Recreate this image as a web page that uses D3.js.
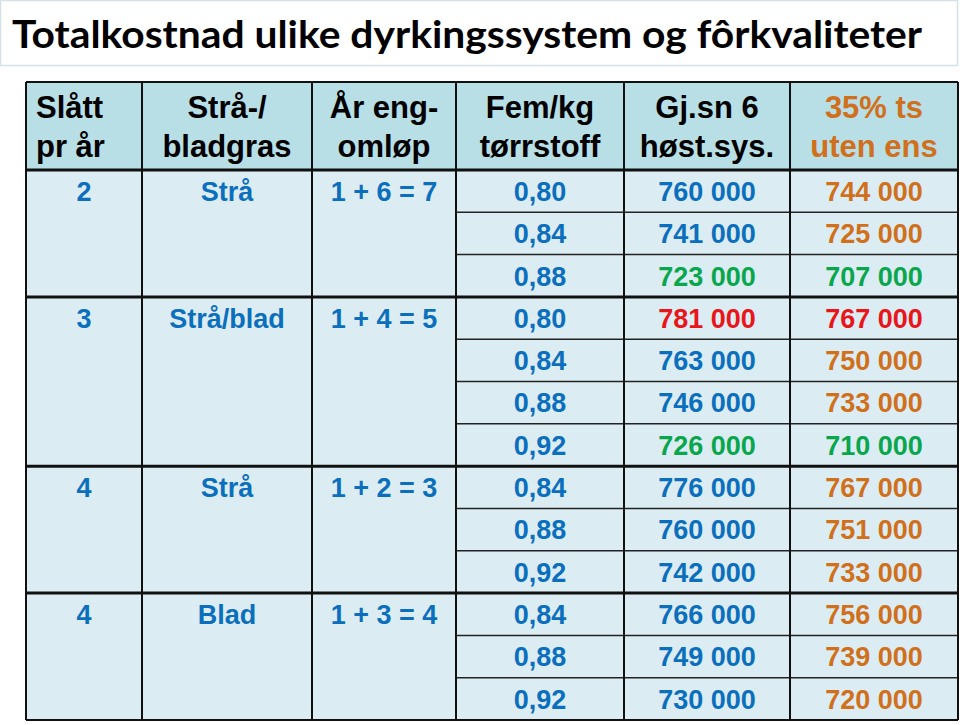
<!DOCTYPE html>
<html><head><meta charset="utf-8">
<script src="https://cdn.jsdelivr.net/npm/d3@7"></script>
<style>
html,body{margin:0;padding:0;background:#fff;}
svg{display:block;}
</style></head>
<body>
<svg id="chart" width="960" height="725"></svg>
<script>
// ---------- data ----------
const title = "Totalkostnad ulike dyrkingssystem og fôrkvaliteter";
const headers = [["Slått","pr år"],["Strå-/","bladgras"],["År eng-","omløp"],["Fem/kg","tørrstoff"],["Gj.sn 6","høst.sys."],["35% ts","uten ens"]];
const slattPrAr = ["2","3","4","4"];
const graskind = ["Strå","Strå/blad","Strå","Blad"];
const omlop = ["1 + 6 = 7","1 + 4 = 5","1 + 2 = 3","1 + 3 = 4"];
const groupSize = [3,4,3,3];
const femKg = ["0,80","0,84","0,88","0,80","0,84","0,88","0,92","0,84","0,88","0,92","0,84","0,88","0,92"];
const gjsn6 = [760000,741000,723000,781000,763000,746000,726000,776000,760000,742000,766000,749000,730000];
const ts35 = [744000,725000,707000,767000,750000,733000,710000,767000,751000,733000,756000,739000,720000];
// marking per row: "" normal, "min" lowest cost in group, "max" highest cost
const mark = ["","","min","max","","","min","","","","","",""];

// ---------- layout ----------
const svg = d3.select("#chart");
const colEdges = [26,142,312,456,624,790,958];
const headTop = 82, headBot = 170, tableBot = 720;
const nRows = femKg.length;
const y = d3.scaleLinear().domain([0,nRows]).range([headBot,tableBot]);
const colX = i => colEdges[i];
const colC = i => (colEdges[i]+colEdges[i+1])/2;

const BLUE="#0b6fbd", ORANGE="#d0701c", GREEN="#0aa64e", RED="#e8161b";
const headFill="#b8dee6", cellFill="#dbedf2";
const FONT="'Liberation Sans', Arial, sans-serif";

// title box
svg.append("rect").attr("x",0.5).attr("y",0.5).attr("width",957).attr("height",65)
  .attr("fill","#fff").attr("stroke","#d3e3e3").attr("stroke-width",1.5);
svg.append("text").attr("x",12).attr("y",48).text(title)
  .attr("font-family","Lato, 'Open Sans', sans-serif").attr("font-weight","bold")
  .attr("font-size",38).attr("fill","#000")
  .attr("textLength",910).attr("lengthAdjust","spacingAndGlyphs");

// backgrounds
svg.append("rect").attr("x",colEdges[0]).attr("y",headTop).attr("width",colEdges[6]-colEdges[0]).attr("height",headBot-headTop).attr("fill",headFill);
svg.append("rect").attr("x",colEdges[0]).attr("y",headBot).attr("width",colEdges[6]-colEdges[0]).attr("height",tableBot-headBot).attr("fill",cellFill);

// header text
const hg = svg.append("g").attr("font-family",FONT).attr("font-weight","bold").attr("font-size",31);
headers.forEach((h,i)=>{
  const t = hg.append("text")
    .attr("x", i===0 ? colX(0)+10 : colC(i))
    .attr("text-anchor", i===0 ? "start" : "middle")
    .attr("fill", i===5 ? ORANGE : "#000");
  h.forEach((line,k)=> t.append("tspan").attr("x", i===0 ? colX(0)+10 : colC(i)).attr("y", 118 + k*39).text(line));
});

// group start rows
const groupStart = [];
let acc = 0;
groupSize.forEach(s=>{groupStart.push(acc); acc+=s;});

const tg = svg.append("g").attr("font-family",FONT).attr("font-weight","bold").attr("font-size",27).attr("text-anchor","middle");
const baseline = r => (y(r)+y(r+1))/2 + 9.8;

groupStart.forEach((r,g)=>{
  tg.append("text").attr("x",colC(0)).attr("y",baseline(r)).attr("fill",BLUE).text(slattPrAr[g]);
  tg.append("text").attr("x",colC(1)).attr("y",baseline(r)).attr("fill",BLUE).text(graskind[g]);
  tg.append("text").attr("x",colC(2)).attr("y",baseline(r)).attr("fill",BLUE).text(omlop[g]);
});
const fmt = v => d3.format(",")(v).replace(/,/g," ");
const colorFor = (r,def) => mark[r]==="min" ? GREEN : mark[r]==="max" ? RED : def;
d3.range(nRows).forEach(r=>{
  tg.append("text").attr("x",colC(3)).attr("y",baseline(r)).attr("fill",BLUE).text(femKg[r]);
  tg.append("text").attr("x",colC(4)).attr("y",baseline(r)).attr("fill",colorFor(r,BLUE)).text(fmt(gjsn6[r]));
  tg.append("text").attr("x",colC(5)).attr("y",baseline(r)).attr("fill",colorFor(r,ORANGE)).text(fmt(ts35[r]));
});

// grid lines
const lg = svg.append("g").attr("stroke","#111").attr("fill","none");
d3.range(1,nRows).forEach(r=>{
  if (groupStart.includes(r)) return;
  lg.append("line").attr("x1",colX(3)).attr("x2",colX(6)).attr("y1",y(r)).attr("y2",y(r)).attr("stroke-width",1.5).attr("stroke","#222");
});
groupStart.slice(1).forEach(r=>{
  lg.append("line").attr("x1",colX(0)).attr("x2",colX(6)).attr("y1",y(r)).attr("y2",y(r)).attr("stroke-width",3);
});
lg.append("line").attr("x1",colX(0)).attr("x2",colX(6)).attr("y1",headBot).attr("y2",headBot).attr("stroke-width",3);
colEdges.forEach((x,i)=>{
  lg.append("line").attr("x1",x).attr("x2",x).attr("y1",headTop).attr("y2",tableBot).attr("stroke-width", 2);
});
lg.append("line").attr("x1",colX(0)).attr("x2",colX(6)).attr("y1",headTop).attr("y2",headTop).attr("stroke-width",2);
lg.append("line").attr("x1",colX(0)).attr("x2",colX(6)).attr("y1",tableBot).attr("y2",tableBot).attr("stroke-width",2);
</script>
</body></html>
